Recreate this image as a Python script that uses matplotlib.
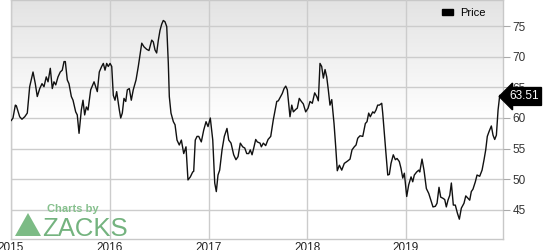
import numpy as np
import matplotlib
matplotlib.use("Agg")
import matplotlib.pyplot as plt
from matplotlib.patches import Patch, Polygon
from matplotlib.colors import LinearSegmentedColormap
import matplotlib.transforms as mtransforms

plt.rcParams['font.family'] = ['Liberation Sans', 'DejaVu Sans']

# years elapsed since start of 2015
t_offset = [
    0.003, 0.020, 0.044, 0.054, 0.088, 0.111, 0.139, 0.165, 0.189, 0.223,
    0.246, 0.266, 0.291, 0.314, 0.334, 0.357, 0.375, 0.398, 0.418, 0.435,
    0.453, 0.476, 0.499, 0.519, 0.537, 0.550, 0.570, 0.587, 0.611, 0.628,
    0.655, 0.671, 0.689, 0.712, 0.729, 0.746, 0.763, 0.780, 0.807, 0.841,
    0.851, 0.874, 0.894, 0.918, 0.935, 0.952, 0.969, 0.985, 1.003, 1.020,
    1.036, 1.053, 1.070, 1.097, 1.111, 1.127, 1.144, 1.162, 1.178, 1.198,
    1.218, 1.238, 1.266, 1.289, 1.324, 1.347, 1.374, 1.397, 1.425, 1.441,
    1.458, 1.475, 1.492, 1.509, 1.526, 1.542, 1.559, 1.577, 1.593, 1.603,
    1.620, 1.644, 1.661, 1.681, 1.704, 1.725, 1.749, 1.772, 1.792, 1.816,
    1.840, 1.850, 1.866, 1.884, 1.901, 1.927, 1.951, 1.975, 1.995, 2.018,
    2.043, 2.063, 2.079, 2.096, 2.113, 2.137, 2.160, 2.187, 2.205, 2.228,
    2.255, 2.278, 2.299, 2.322, 2.346, 2.367, 2.387, 2.407, 2.423, 2.441,
    2.458, 2.478, 2.494, 2.522, 2.535, 2.555, 2.579, 2.603, 2.630, 2.656,
    2.691, 2.707, 2.731, 2.747, 2.765, 2.782, 2.798, 2.825, 2.843, 2.859,
    2.883, 2.899, 2.919, 2.940, 2.960, 2.984, 3.008, 3.028, 3.051, 3.075,
    3.096, 3.112, 3.129, 3.146, 3.163, 3.180, 3.197, 3.213, 3.230, 3.248,
    3.271, 3.288, 3.304, 3.325, 3.349, 3.375, 3.410, 3.433, 3.453, 3.476,
    3.494, 3.511, 3.534, 3.562, 3.588, 3.605, 3.622, 3.638, 3.663, 3.679,
    3.696, 3.713, 3.730, 3.754, 3.764, 3.780, 3.797, 3.815, 3.831, 3.848,
    3.871, 3.892, 3.909, 3.932, 3.949, 3.967, 3.983, 4.007, 4.027, 4.051,
    4.068, 4.084, 4.108, 4.129, 4.139, 4.162, 4.182, 4.206, 4.230, 4.256,
    4.273, 4.297, 4.314, 4.334, 4.351, 4.375, 4.392, 4.408, 4.425, 4.443,
    4.459, 4.479, 4.499, 4.520, 4.540, 4.560, 4.587, 4.605, 4.628, 4.645,
    4.661, 4.678, 4.702, 4.719, 4.746, 4.770, 4.790, 4.807, 4.823, 4.841,
    4.864, 4.881, 4.898, 4.915, 4.932, 4.949, 4.962,
]

price = [
    59.6, 60.0, 62.1, 62.0, 60.2, 59.8, 60.2, 60.8, 65.1, 67.5,
    65.6, 63.5, 64.8, 65.6, 65.1, 66.7, 65.9, 68.1, 64.8, 65.9,
    65.4, 66.7, 67.5, 67.8, 69.2, 69.2, 66.2, 65.6, 63.5, 62.9,
    61.0, 60.5, 57.5, 61.3, 62.9, 60.5, 61.8, 61.3, 64.6, 65.9,
    65.4, 64.3, 67.5, 68.4, 68.9, 67.8, 68.9, 68.4, 68.9, 68.4,
    63.7, 62.9, 64.3, 61.3, 60.0, 60.8, 63.2, 62.7, 64.6, 64.8,
    62.9, 64.6, 66.2, 68.4, 72.2, 71.6, 71.2, 71.0, 72.7, 72.4,
    71.1, 70.6, 72.7, 74.3, 75.3, 75.9, 75.7, 74.9, 68.9, 63.5,
    60.8, 59.4, 58.9, 56.4, 55.6, 56.4, 54.2, 55.3, 49.9, 50.4,
    51.2, 51.3, 56.4, 57.0, 57.0, 56.1, 58.0, 59.4, 58.6, 60.0,
    56.4, 49.4, 48.0, 50.7, 51.5, 54.8, 57.0, 58.3, 56.4, 55.9,
    54.0, 53.2, 53.7, 55.9, 55.3, 55.1, 54.2, 54.2, 54.8, 54.0,
    55.1, 56.5, 56.1, 55.9, 55.3, 55.9, 55.5, 56.5, 57.0, 59.7,
    62.7, 62.8, 63.5, 64.0, 64.8, 65.2, 64.6, 60.2, 62.1, 61.0,
    61.4, 61.6, 63.2, 62.7, 62.3, 61.0, 61.6, 62.7, 62.4, 64.1,
    63.5, 62.8, 68.9, 68.4, 66.5, 67.9, 66.7, 64.6, 62.1, 63.0,
    59.1, 55.3, 51.4, 52.3, 51.5, 52.6, 53.0, 53.3, 54.8, 55.3,
    55.6, 56.7, 57.1, 57.0, 59.1, 59.4, 60.8, 60.2, 61.0, 60.8,
    61.3, 62.1, 62.1, 62.4, 60.8, 57.5, 54.2, 50.7, 50.8, 52.6,
    54.0, 53.2, 53.4, 52.9, 51.8, 50.2, 51.0, 47.2, 49.1, 50.4,
    49.6, 50.7, 51.2, 51.5, 51.2, 53.3, 51.5, 48.5, 47.7, 46.4,
    45.5, 45.6, 46.1, 48.7, 47.1, 46.9, 46.7, 45.5, 46.6, 47.4,
    49.4, 45.8, 45.8, 44.5, 43.5, 45.3, 46.1, 47.3, 46.9, 46.6,
    48.0, 48.4, 49.6, 50.7, 50.5, 51.5, 53.2, 54.8, 57.0, 57.8,
    58.7, 57.2, 56.5, 57.2, 61.3, 63.7, 63.51,
]

year_ticks = [2015, 2016, 2017, 2018, 2019]
price_ticks = [45, 50, 55, 60, 65, 70, 75]
series_name = "Price"
last_label = "63.51"

x = 2015 + np.array(t_offset)
y = np.array(price)

fig = plt.figure(figsize=(5.44, 2.5), dpi=100)
ax = fig.add_axes([11/544, 1 - 239/250, (503 - 11)/544, 239/250])

x0, x1 = 2015.0, 2019.982
y0, y1 = 40.27, 79.24
ax.set_xlim(x0, x1)
ax.set_ylim(y0, y1)

# gradient background
cmap = LinearSegmentedColormap.from_list(
    "bg", [(0.0, "#ffffff"), (0.5, "#ffffff"), (1.0, "#e3e3e3")])
grad = np.linspace(0, 1, 256).reshape(-1, 1)
ax.imshow(grad, extent=[x0, x1, y0, y1], aspect='auto', cmap=cmap,
          origin='lower', zorder=0, interpolation='bilinear')

ax.set_xticks(year_ticks)
ax.set_xticklabels([str(v) for v in year_ticks])
ax.set_yticks(price_ticks)
ax.grid(True, color="#cccccc", linewidth=1.0, zorder=1)
ax.set_axisbelow(False)

ax.yaxis.tick_right()
ax.tick_params(axis='y', which='both', length=5, width=0.8, color="#aaaaaa",
               labelsize=8.5, pad=2, labelcolor="#333333")
ax.tick_params(axis='x', length=0, labelsize=8.5, pad=2, labelcolor="#222222")
for s in ax.spines.values():
    s.set_color("#c8c8c8")
    s.set_linewidth(1.0)

ax.plot(x, y, color="#111111", linewidth=1.0, zorder=3, label=series_name)

# last value label
trans = mtransforms.blended_transform_factory(ax.transAxes, ax.transData)
ax.text(1.012, y[-1], last_label, transform=trans, color="white",
        fontsize=8.5, va='center', ha='left', zorder=5, clip_on=False,
        bbox=dict(boxstyle="larrow,pad=0.25", fc="black", ec="black"))

leg = ax.legend(handles=[Patch(facecolor="black", edgecolor="black", label=series_name)],
                loc='upper right', bbox_to_anchor=(0.985, 1.01), frameon=False,
                fontsize=8, handlelength=1.0, handleheight=0.45, handletextpad=0.6)

# branding
fig.text(47/544, 1 - 212/250, "Charts by", color="#86c08d", fontsize=8,
         fontweight='bold', ha='left', va='baseline')
fig.text(42/544, 1 - 236/250, "ZACKS", color="#74b37f", fontsize=18.5,
         ha='left', va='baseline')
tri = Polygon([[15/544, 1 - 236/250], [41/544, 1 - 236/250], [28/544, 1 - 213/250]],
              closed=True, transform=fig.transFigure, facecolor="#7cbb85",
              edgecolor="none", zorder=4)
fig.patches.append(tri)

fig.savefig("out.png", dpi=100)
